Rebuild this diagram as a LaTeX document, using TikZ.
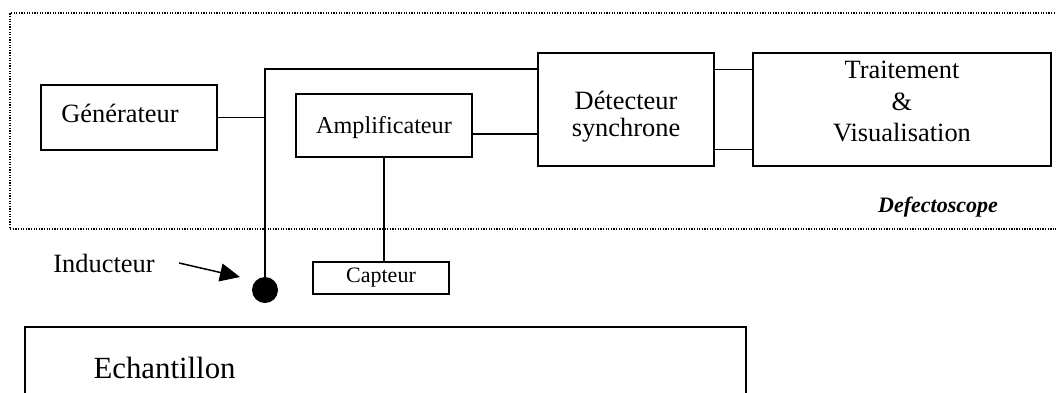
\documentclass[tikz,border=0pt]{standalone}
\usepackage{fontspec}
\setmainfont{Liberation Serif}
\usetikzlibrary{arrows.meta}
\tikzset{
  font={\fontsize{26.4pt}{30pt}\selectfont},
  bloc/.style={draw, line width=1.5pt, inner sep=0pt, align=center},
  fil/.style={line width=1.5pt}}

\begin{document}
\begin{tikzpicture}[x=1pt,y=-1pt]
\useasboundingbox (0,0) rectangle (1056,392);
% cadre du defectoscope
\draw [line width=1.3pt, dash pattern=on 1.3pt off 1.3pt] (1060,13) -- (10,13) -- (10,229) -- (1060,229);
\node [font={\fontsize{22pt}{26pt}\selectfont\bfseries\itshape}] (defecto) at (938,207) {Defectoscope};
% blocs
\node [bloc, minimum width=176pt, minimum height=65pt,
  label={[xshift=-9pt, yshift=4pt]center:G\'en\'erateur}] (gen) at (129,117.5) {};
\node [bloc, minimum width=176pt, minimum height=63pt,
  label={[yshift=-2.5pt, font={\fontsize{24.2pt}{28pt}\selectfont}]center:Amplificateur}] (amp) at (384,125.5) {};
\node [bloc, minimum width=176pt, minimum height=113pt,
  label={[yshift=-7pt, align=center, font={\fontsize{26.4pt}{27pt}\selectfont}]center:D\'etecteur\\synchrone}] (det) at (626,109.5) {};
\node [bloc, minimum width=298pt, minimum height=113pt,
  label={[yshift=8pt, align=center, font={\fontsize{26.4pt}{31.5pt}\selectfont}]center:Traitement\\\&\\Visualisation}] (trait) at (902,109.5) {};
\node [bloc, minimum width=136pt, minimum height=32pt, font={\fontsize{22pt}{26pt}\selectfont}] (cap) at (381,278) {Capteur};
\node [circle, fill, minimum size=26pt, inner sep=0pt] (ind) at (265,290) {};
\node (indtxt) at (104,263) {Inducteur};
\node [draw, line width=1.5pt, minimum width=721pt, minimum height=120pt, anchor=north west] (ech) at (24,326) {};
\node [anchor=west, font={\fontsize{30.8pt}{36pt}\selectfont}] (echtxt) at (90,368) {Echantillon};
\coordinate (coude) at (265,69);
\coordinate (pointe) at (240,277);
% liaisons
\draw [fil] (ind) -- (coude) -- (coude -| det.west);
\draw [fil] (gen.east) -- (gen.east -| coude);
\draw [fil] ([yshift=-8.5pt]amp.east) -- ([yshift=-8.5pt]amp.east -| det.west);
\draw [fil] (amp.south) -- (amp.south |- cap.north);
\draw [fil] ([yshift=40pt]det.east) -- ([yshift=40pt]det.east -| trait.west);
\draw [fil] ([yshift=-40pt]det.east) -- ([yshift=-40pt]det.east -| trait.west);
\draw [fil, -{Triangle[length=20pt, width=18pt]}] ([xshift=21pt]indtxt.east) -- (pointe);
\end{tikzpicture}
\end{document}
